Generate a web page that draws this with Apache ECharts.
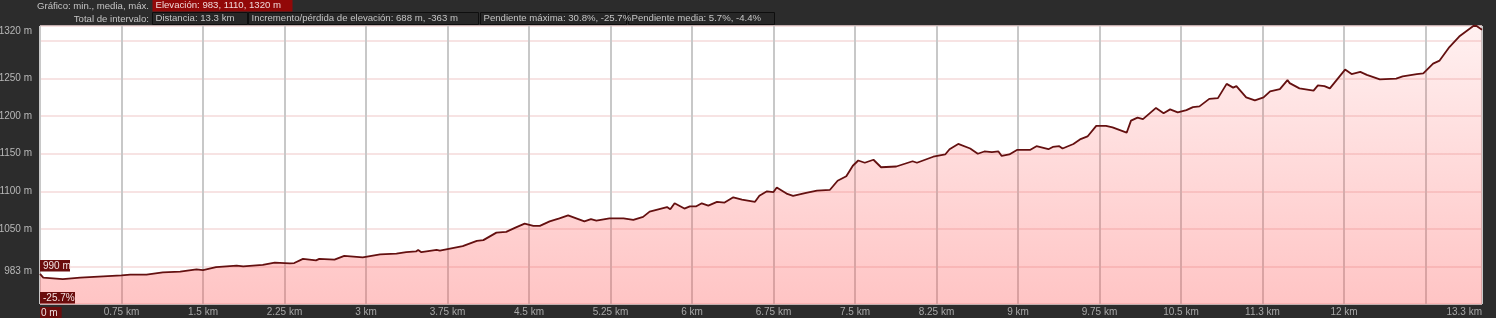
<!DOCTYPE html>
<html>
<head>
<meta charset="utf-8">
<script src="https://cdn.jsdelivr.net/npm/echarts@6/dist/echarts.min.js"></script>
<style>
html,body{margin:0;padding:0;background:#2c2c2c;}
#c{width:1496px;height:318px;}
</style>
</head>
<body>
<div id="c"></div>
<script>
// distance along route (km)
const distances = [0,0.03,0.21,0.37,0.75,0.83,0.98,1.13,1.29,1.44,1.50,1.62,1.81,1.87,2.05,2.16,2.30,2.34,2.42,2.54,2.57,2.71,2.80,2.97,3.13,3.28,3.37,3.46,3.48,3.51,3.65,3.68,3.89,4.02,4.08,4.20,4.29,4.38,4.46,4.54,4.60,4.69,4.78,4.86,5.01,5.07,5.12,5.24,5.37,5.46,5.55,5.61,5.77,5.80,5.84,5.93,5.98,6.04,6.09,6.15,6.23,6.30,6.38,6.46,6.58,6.62,6.69,6.75,6.78,6.87,6.93,7.05,7.15,7.27,7.34,7.42,7.48,7.53,7.59,7.67,7.74,7.88,8.03,8.07,8.22,8.33,8.37,8.45,8.56,8.63,8.69,8.76,8.82,8.85,8.92,8.99,9.11,9.17,9.28,9.32,9.38,9.41,9.51,9.57,9.64,9.72,9.81,9.87,10.00,10.04,10.10,10.15,10.27,10.34,10.40,10.47,10.55,10.61,10.67,10.76,10.84,10.92,10.98,11.01,11.10,11.18,11.26,11.32,11.41,11.48,11.50,11.59,11.72,11.76,11.82,11.87,12.01,12.07,12.15,12.21,12.33,12.48,12.54,12.67,12.73,12.82,12.88,12.97,13.06,13.19,13.22,13.27];
// elevation (m)
const elevations = [990,985,983,985,988,989,989,992,993,996,995,999,1001,1000,1002,1005,1004,1004.5,1010,1008,1010,1009,1014,1012,1016,1017,1019,1020,1022,1019,1022,1021,1027,1034,1035,1045,1046,1052,1057,1054,1054,1060,1064,1068,1060,1063,1061,1064,1064,1062,1066,1073,1079,1076,1084,1077,1080,1080,1084,1081,1086,1085,1092,1089,1086,1094,1100,1099,1105,1097,1094,1098,1101,1102,1114,1120,1134,1141,1138,1142,1132,1133,1140,1138,1146,1149,1156,1163,1157,1150,1153,1152,1153,1147,1149,1155,1155,1160,1156,1159,1160,1157,1163,1169,1173,1187,1187,1185,1178,1194,1198,1196,1211,1204,1209,1205,1208,1212,1213,1223,1224,1243,1238,1240,1225,1221,1225,1233,1236,1248,1244,1237,1234,1241,1240,1237,1262,1256,1259,1255,1249,1250,1253,1256,1257,1270,1274,1292,1306,1320,1320,1315];

// axis ticks
const xTickValues = [0,0.75,1.5,2.25,3,3.75,4.5,5.25,6,6.75,7.5,8.25,9,9.75,10.5,11.25,12,12.75,13.27];
const xTickLabels = ['0 m','0.75 km','1.5 km','2.25 km','3 km','3.75 km','4.5 km','5.25 km','6 km','6.75 km','7.5 km','8.25 km','9 km','9.75 km','10.5 km','11.3 km','12 km','','13.3 km'];
const yTickValues = [1050,1100,1150,1200,1250,1320];
const yTickLabels = ['1050 m','1100 m','1150 m','1200 m','1250 m','1320 m'];
const minElevation = 983, minElevationLabel = '983 m';
const startLabel = '990 m', slopeLabel = '-25.7%';

// header texts
const headerRow1Title = 'Gráfico: min., media, máx.';
const headerRow1Box = 'Elevación: 983, 1110, 1320 m';
const headerRow2Title = 'Total de intervalo:';
const headerRow2Boxes = ['Distancia: 13.3 km','Incremento/pérdida de elevación: 688 m, -363 m','Pendiente máxima: 30.8%, -25.7%','Pendiente media: 5.7%, -4.4%'];
const headerRow2X = [152,248,480,628];
const headerRow2W = [95,230,146,146];

const FONT = '"Liberation Sans", Arial, sans-serif';
const FS = 10;
const HFS = 9.6;
const chart = echarts.init(document.getElementById('c'), null, {renderer:'canvas'});

const seriesData = distances.map((d,i)=>[d, elevations[i]]);

function boxText(x, y, w, h, text, fill, stroke, color, fs){
  const g = [];
  g.push({type:'rect', z:100, shape:{x:x, y:y, width:w, height:h}, style:{fill:fill, stroke:stroke||null, lineWidth:stroke?1:0}});
  g.push({type:'text', z:101, x:x+3, y:y+h/2, style:{text:text, fill:color, font:(fs||FS)+'px '+FONT, verticalAlign:'middle', textAlign:'left'}});
  return g;
}

const graphics = [
  {type:'text', x:149, y:6, style:{text:headerRow1Title, fill:'#c4c4c4', font:HFS+'px '+FONT, textAlign:'right', verticalAlign:'middle'}},
  {type:'text', x:149, y:19, style:{text:headerRow2Title, fill:'#c4c4c4', font:HFS+'px '+FONT, textAlign:'right', verticalAlign:'middle'}}
];
graphics.push(...boxText(152.5, 0, 140, 11.5, headerRow1Box, '#920808', null, '#f0d8d8', HFS));
headerRow2Boxes.forEach((t,i)=>{
  graphics.push(...boxText(headerRow2X[i]+0.5, 12.5, headerRow2W[i], 12, t, '#272727', '#0e0e0e', '#c4c4c4', HFS));
});
graphics.push(...boxText(40, 260, 30, 11.5, startLabel, '#6a0c0c', null, '#f2e0e0'));
graphics.push(...boxText(40, 292, 35, 11.5, slopeLabel, '#6a0c0c', null, '#f2e0e0'));

chart.setOption({
  backgroundColor:'#2c2c2c',
  animation:false,
  grid:{left:40, right:14, top:26, bottom:14, show:true, backgroundColor:'#ffffff', borderWidth:0, containLabel:false, outerBoundsMode:'none'},
  xAxis:{
    type:'value', min:0, max:13.27, interval:0.75,
    axisLine:{show:false}, axisTick:{show:false},
    splitLine:{show:true, lineStyle:{color:'#c8c8c8', width:2}},
    axisLabel:{
      show:true, margin:3, color:'#a8a8a8', fontSize:FS, fontFamily:FONT,
      showMinLabel:true, showMaxLabel:true, alignMinLabel:'left', alignMaxLabel:'right', hideOverlap:false,
      formatter:function(v){
        let idx = xTickValues.findIndex(t=>Math.abs(t-v)<0.01);
        if(idx<0) return '';
        if(idx===0) return '{z|'+xTickLabels[0]+'}';
        return xTickLabels[idx];
      },
      rich:{z:{backgroundColor:'#6a0c0c', color:'#f2e0e0', fontSize:FS, fontFamily:FONT, padding:[1,4,1,1]}}
    }
  },
  yAxis:{
    type:'value', min:950, max:1320, interval:50,
    axisLine:{show:false}, axisTick:{show:false},
    splitLine:{show:true, lineStyle:{color:'#f4dada', width:1.5}},
    axisLabel:{
      show:true, margin:8, color:'#b8b8b8', fontSize:FS, fontFamily:FONT,
      showMaxLabel:true,
      formatter:function(v){
        let idx = yTickValues.findIndex(t=>Math.abs(t-v)<0.01);
        if(idx<0) return '';
        if(yTickValues[idx]===1320) return '{t|'+yTickLabels[idx]+'}';
        return yTickLabels[idx];
      },
      rich:{t:{color:'#b8b8b8', fontSize:FS, fontFamily:FONT, padding:[10,0,0,0]}}
    }
  },
  series:[{
    type:'line', data:seriesData, showSymbol:false, smooth:false,
    lineStyle:{color:'#641010', width:1.8},
    areaStyle:{color:new echarts.graphic.LinearGradient(0,0,0,1,[
      {offset:0,color:'rgba(255,80,80,0.12)'},
      {offset:1,color:'rgba(255,80,80,0.48)'}
    ])}
  }],
  graphic:graphics
});

// minimum elevation label placed through the y axis scale
const yMin = chart.convertToPixel({yAxisIndex:0}, minElevation);
graphics.push({type:'text', x:32, y:yMin-8, style:{text:minElevationLabel, fill:'#b8b8b8', font:FS+'px '+FONT, textAlign:'right', verticalAlign:'middle'}});
chart.setOption({graphic:graphics});
</script>
</body>
</html>
